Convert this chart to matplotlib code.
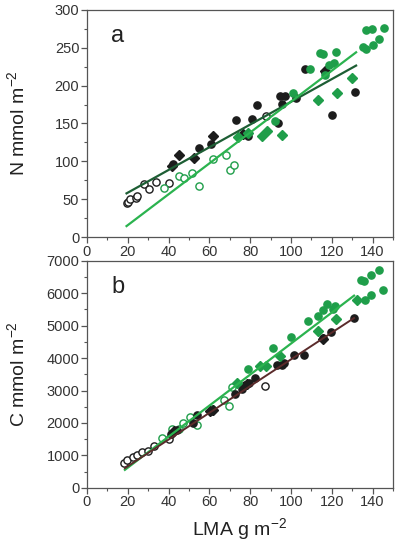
import numpy as np
import matplotlib
matplotlib.use("Agg")
import matplotlib.pyplot as plt
from matplotlib.ticker import MultipleLocator

plt.rcParams['mathtext.fontset'] = 'custom'
plt.rcParams['mathtext.rm'] = 'Liberation Sans'

# ---- panel a: N (mmol m-2) vs LMA ----
a_blk_open_x = [19.4, 19.9, 21.1, 24.0, 24.7, 28.1, 30.4, 33.8, 40.4, 87.7]
a_blk_open_y = [44.5, 46.7, 50, 52, 54, 69.6, 64, 73, 72, 160]
a_blk_fill_x = [42.3, 55.0, 60.6, 73.2, 79.0, 81.0, 83.3, 93.8, 94.6, 95.4, 97.2, 102.5, 107.0, 116.7, 120.3, 131.4]
a_blk_fill_y = [96.5, 118, 123, 154.6, 133.5, 156, 174, 150, 186, 176, 186, 183, 222, 218.5, 161, 191]
a_blk_dia_x = [41.5, 45.3, 52.5, 61.9, 76.3, 116.5]
a_blk_dia_y = [94, 108, 104, 134, 136, 219]
a_grn_open_x = [37.9, 45.3, 47.5, 51.5, 54.9, 61.9, 68.1, 70.1, 72.0]
a_grn_open_y = [65, 80, 78, 84, 68, 102.6, 108, 88.5, 94.7]
a_grn_dia_x = [74.2, 79.0, 85.6, 88.4, 95.4, 113.4, 122.4, 129.7]
a_grn_dia_y = [132.6, 137, 134, 140, 134.8, 181, 190.7, 210.6]
a_grn_fill_x = [92.2, 101.2, 109.3, 114.2, 115.5, 116.7, 118.5, 121.1, 122.1, 135.5, 136.6, 136.6, 139.9, 140.2, 143.3, 145.6]
a_grn_fill_y = [153.7, 190.7, 221.6, 243.6, 241.4, 214, 227, 230, 244, 251.5, 248.5, 274, 275, 253.7, 261.7, 275.8]
# fitted lines (slope, intercept, x range)
a_fit_dark = (1.50, 28.6)
a_fit_light = (2.04, -25.1)
a_fit_x = [19.4, 131.9]

# ---- panel b: C (mmol m-2) vs LMA ----
b_blk_open_x = [18.3, 19.4, 22.7, 24.3, 27.1, 30.0, 32.8, 40.4, 87.3]
b_blk_open_y = [760, 843, 966, 997, 1110, 1140, 1305, 1500, 3124]
b_blk_fill_x = [41.0, 44.0, 51.8, 53.8, 61.0, 72.5, 75.8, 77.5, 79.6, 82.4, 93.0, 95.4, 96.6, 101.6, 106.4, 115.5, 119.4, 130.9]
b_blk_fill_y = [1665, 1788, 1994, 2250, 2353, 2898, 3042, 3176, 3227, 3381, 3772, 3792, 3844, 4090, 4090, 4615, 4789, 5231]
b_blk_dia_x = [42.6, 60.3, 61.9, 78.3, 115.8]
b_blk_dia_y = [1737, 2353, 2384, 3207, 4584]
b_grn_open_x = [36.6, 41.5, 45.0, 46.9, 50.5, 54.1, 61.4, 67.3, 69.6, 70.9]
b_grn_open_y = [1531, 1819, 1809, 2004, 2179, 1942, 2436, 2713, 2508, 3094]
b_grn_dia_x = [73.4, 84.8, 87.7, 94.6, 113.1, 121.9, 132.2]
b_grn_dia_y = [3227, 3741, 3762, 4070, 4820, 5211, 5797]
b_grn_fill_x = [78.8, 91.3, 100.0, 108.3, 113.2, 115.5, 117.8, 120.8, 121.6, 134.3, 136.0, 136.3, 139.2, 139.2, 143.1, 144.9]
b_grn_fill_y = [3669, 4306, 4645, 5149, 5283, 5488, 5673, 5509, 5591, 6413, 6362, 5797, 6567, 5930, 6721, 6084]
b_fit_green = (47.8, -334)
b_fit_brown = (41.2, -160)
b_fit_x = [18.6, 130.9]

BLK = "#1c1c1c"
GRN = "#1f9e4a"
LGRN = "#2bb34f"
DGRN = "#1d5e34"
BRN = "#5b2b2b"

fig = plt.figure(figsize=(3.97, 5.5), dpi=100)
ax1 = fig.add_axes([0.219, 0.569, 0.771, 0.413])
ax2 = fig.add_axes([0.219, 0.113, 0.771, 0.413])

ms = 5.2


def pts(ax, d):
    (bo, bf, bd, go, gd, gf) = d
    ax.plot(*bo, 'o', mfc='white', mec=BLK, mew=1.0, ms=ms, zorder=3)
    ax.plot(*go, 'o', mfc='white', mec=GRN, mew=1.0, ms=ms, zorder=3)
    ax.plot(*bf, 'o', color=BLK, ms=ms, zorder=3)
    ax.plot(*bd, 'D', color=BLK, ms=ms - 0.5, zorder=3)
    ax.plot(*gd, 'D', color=GRN, ms=ms - 0.5, zorder=3)
    ax.plot(*gf, 'o', color=GRN, ms=ms, zorder=3)


pts(ax1, [(a_blk_open_x, a_blk_open_y), (a_blk_fill_x, a_blk_fill_y), (a_blk_dia_x, a_blk_dia_y),
          (a_grn_open_x, a_grn_open_y), (a_grn_dia_x, a_grn_dia_y), (a_grn_fill_x, a_grn_fill_y)])
fx = np.array(a_fit_x)
ax1.plot(fx, a_fit_dark[0] * fx + a_fit_dark[1], color=DGRN, lw=1.6, zorder=4)
ax1.plot(fx, a_fit_light[0] * fx + a_fit_light[1], color=LGRN, lw=1.6, zorder=4)

pts(ax2, [(b_blk_open_x, b_blk_open_y), (b_blk_fill_x, b_blk_fill_y), (b_blk_dia_x, b_blk_dia_y),
          (b_grn_open_x, b_grn_open_y), (b_grn_dia_x, b_grn_dia_y), (b_grn_fill_x, b_grn_fill_y)])
fx = np.array(b_fit_x)
ax2.plot(fx, b_fit_green[0] * fx + b_fit_green[1], color=LGRN, lw=1.6, zorder=4)
ax2.plot(fx, b_fit_brown[0] * fx + b_fit_brown[1], color=BRN, lw=1.4, zorder=4)

for ax, ymax, ymaj, lbl, let in [(ax1, 300, 50, 'N mmol m$^{\\mathregular{-2}}$', 'a'),
                                 (ax2, 7000, 1000, 'C mmol m$^{\\mathregular{-2}}$', 'b')]:
    ax.set_xlim(0, 150)
    ax.set_ylim(0, ymax)
    ax.xaxis.set_major_locator(MultipleLocator(20))
    ax.xaxis.set_minor_locator(MultipleLocator(10))
    ax.yaxis.set_major_locator(MultipleLocator(ymaj))
    ax.yaxis.set_minor_locator(MultipleLocator(ymaj / 2))
    ax.tick_params(which='major', direction='out', length=4, width=0.9, color='#555555',
                   labelcolor='#333333', pad=1.5)
    ax.tick_params(which='minor', direction='out', length=2.5, width=0.8, color='#555555')
    for lab in ax.get_xticklabels() + ax.get_yticklabels():
        lab.set_fontfamily('Liberation Sans')
        lab.set_fontsize(10.5)
    for s in ax.spines.values():
        s.set_color('#555555')
        s.set_linewidth(0.9)
    ax.set_ylabel(lbl, family='Liberation Sans', fontsize=14, color='#222222')
    ax.yaxis.set_label_coords(-0.19, 0.5)
    ax.text(0.08, 0.885, let, transform=ax.transAxes, family='Liberation Sans',
            fontsize=17, color='#222222', ha='left', va='center')

ax2.set_xlabel('LMA g m$^{\\mathregular{-2}}$', family='Liberation Sans', fontsize=14,
               color='#222222', labelpad=5)

fig.savefig('out.png', dpi=100)
